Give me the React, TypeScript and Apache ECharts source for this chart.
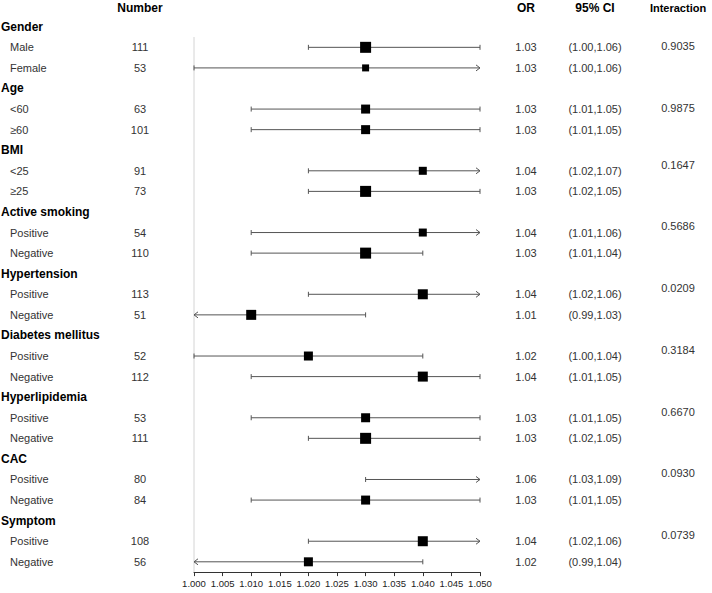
import React, { useEffect, useRef } from "react";
import * as echarts from "echarts";

const groups = ["Gender", "Age", "BMI", "Active smoking", "Hypertension", "Diabetes mellitus", "Hyperlipidemia", "CAC", "Symptom"];
const subgroups = [
  ["Male", "Female"], ["<60", "≥60"], ["<25", "≥25"], ["Positive", "Negative"], ["Positive", "Negative"],
  ["Positive", "Negative"], ["Positive", "Negative"], ["Positive", "Negative"], ["Positive", "Negative"],
];
const numbers = [[111, 53], [63, 101], [91, 73], [54, 110], [113, 51], [52, 112], [53, 111], [80, 84], [108, 56]];
const orValues = [[1.03, 1.03], [1.03, 1.03], [1.04, 1.03], [1.04, 1.03], [1.04, 1.01], [1.02, 1.04], [1.03, 1.03], [1.06, 1.03], [1.04, 1.02]];
// CI as printed in the table
const ciLower = [[1.0, 1.0], [1.01, 1.01], [1.02, 1.02], [1.01, 1.01], [1.02, 0.99], [1.0, 1.01], [1.01, 1.02], [1.03, 1.01], [1.02, 0.99]];
const ciUpper = [[1.06, 1.06], [1.05, 1.05], [1.07, 1.05], [1.06, 1.04], [1.06, 1.03], [1.04, 1.05], [1.05, 1.05], [1.09, 1.05], [1.06, 1.04]];
// CI as drawn in the plot
const plotLower = [[1.02, 1.0], [1.01, 1.01], [1.02, 1.02], [1.01, 1.01], [1.02, 0.99], [1.0, 1.01], [1.01, 1.02], [1.03, 1.01], [1.02, 0.99]];
const plotUpper = [[1.05, 1.06], [1.05, 1.05], [1.07, 1.05], [1.06, 1.04], [1.06, 1.03], [1.04, 1.05], [1.05, 1.05], [1.09, 1.05], [1.06, 1.04]];
const interaction = ["0.9035", "0.9875", "0.1647", "0.5686", "0.0209", "0.3184", "0.6670", "0.0930", "0.0739"];
// relative weight of each estimate (drives square size)
const weights = [[5.5, 3.5], [4.5, 4.5], [4, 5.5], [4, 5.5], [5, 5], [4.5, 5], [4.5, 5.5], [4.5, 4.5], [5, 4.5]];
const headers = ["Number", "OR", "95% CI", "Interaction"];

const X_MIN = 1.0;
const X_MAX = 1.05;
const FONT = "'Liberation Sans', Arial, Helvetica, sans-serif";

const fmt2 = (v: number) => v.toFixed(2);

export default function App() {
  const ref = useRef<HTMLDivElement>(null);
  useEffect(() => {
    if (!ref.current) return;
    const chart = echarts.init(ref.current, undefined, { renderer: "svg" });

    type Row = { r: number; kind: "group" | "sub"; gi: number; si: number };
    const rows: Row[] = [];
    const groupRow: number[] = [];
    let r = 0;
    groups.forEach((_, gi) => {
      groupRow.push(r);
      rows.push({ r, kind: "group", gi, si: -1 });
      r++;
      subgroups[gi].forEach((_, si) => {
        rows.push({ r, kind: "sub", gi, si });
        r++;
      });
    });
    const subRows = rows.filter((x) => x.kind === "sub");

    const txt = (x: number, y: number, text: string, align: string, bold: boolean, size: number, color: string) => ({
      type: "text",
      x,
      y,
      style: {
        text,
        fill: color,
        fontSize: size,
        fontWeight: bold ? "bold" : "normal",
        fontFamily: FONT,
        align,
        verticalAlign: "middle",
        textAlign: align,
        textVerticalAlign: "middle",
      },
    });

    const COL_NUM = 140;
    const COL_OR = 526;
    const COL_CI = 595;
    const COL_INT = 678;

    const option: any = {
      animation: false,
      grid: { left: 194, right: 232, top: 0, bottom: 20.9, containLabel: false },
      xAxis: {
        type: "value",
        min: X_MIN,
        max: X_MAX,
        interval: 0.005,
        axisLine: { show: true, onZero: false, lineStyle: { color: "#333", width: 1 } },
        axisTick: { show: true, length: 4, lineStyle: { color: "#333" } },
        axisLabel: {
          formatter: (v: number) => v.toFixed(3),
          fontSize: 9.5,
          color: "#222",
          fontFamily: FONT,
          margin: 6,
        },
        splitLine: { show: false },
      },
      yAxis: { type: "value", inverse: true, min: -1.3, max: 26.5, show: false },
      series: [
        {
          type: "line",
          data: [[X_MIN, 0.5], [X_MIN, 26.5]],
          symbol: "none",
          lineStyle: { color: "#d4d4d4", width: 1 },
          silent: true,
          z: 1,
        },
        {
          type: "custom",
          clip: false,
          z: 2,
          data: subRows.map((row) => [plotLower[row.gi][row.si], plotUpper[row.gi][row.si], row.r]),
          renderItem: (params: any, api: any) => {
            const lo = api.value(0);
            const hi = api.value(1);
            const rr = api.value(2);
            const p1 = api.coord([Math.max(lo, X_MIN), rr]);
            const p2 = api.coord([Math.min(hi, X_MAX), rr]);
            const y = p1[1];
            const stroke = { stroke: "#555", lineWidth: 1, fill: "none" };
            const children: any[] = [
              { type: "line", shape: { x1: p1[0], y1: y, x2: p2[0], y2: y }, style: stroke },
            ];
            if (lo < X_MIN) {
              children.push({ type: "polyline", shape: { points: [[p1[0] + 4, y - 3], [p1[0], y], [p1[0] + 4, y + 3]] }, style: stroke });
            } else {
              children.push({ type: "line", shape: { x1: p1[0], y1: y - 2.5, x2: p1[0], y2: y + 2.5 }, style: stroke });
            }
            if (hi > X_MAX) {
              children.push({ type: "polyline", shape: { points: [[p2[0] - 4, y - 3], [p2[0], y], [p2[0] - 4, y + 3]] }, style: stroke });
            } else {
              children.push({ type: "line", shape: { x1: p2[0], y1: y - 2.5, x2: p2[0], y2: y + 2.5 }, style: stroke });
            }
            return { type: "group", children };
          },
        },
        {
          type: "scatter",
          z: 3,
          symbol: "rect",
          data: subRows
            .filter((row) => orValues[row.gi][row.si] <= X_MAX && orValues[row.gi][row.si] >= X_MIN)
            .map((row) => [orValues[row.gi][row.si], row.r, weights[row.gi][row.si]]),
          symbolSize: (d: number[]) => d[2] * 2,
          itemStyle: { color: "#000", opacity: 1 },
        },
        {
          type: "custom",
          clip: false,
          z: 4,
          data: rows.map((row) => [X_MIN, row.r]),
          renderItem: (params: any, api: any) => {
            const row = rows[params.dataIndex];
            const y = api.coord([X_MIN, row.r])[1];
            if (row.kind === "group") {
              return { type: "group", children: [txt(1, y, groups[row.gi], "left", true, 12, "#000")] };
            }
            const gi = row.gi;
            const si = row.si;
            return {
              type: "group",
              children: [
                txt(10, y, subgroups[gi][si], "left", false, 11, "#333"),
                txt(COL_NUM, y, String(numbers[gi][si]), "center", false, 11, "#333"),
                txt(COL_OR, y, fmt2(orValues[gi][si]), "center", false, 11, "#333"),
                txt(COL_CI, y, "(" + fmt2(ciLower[gi][si]) + "," + fmt2(ciUpper[gi][si]) + ")", "center", false, 11, "#333"),
              ],
            };
          },
        },
        {
          type: "custom",
          clip: false,
          z: 4,
          data: groups.map((_, gi) => [X_MIN, groupRow[gi] + (gi < 2 ? 0.95 : 0.7)]),
          renderItem: (params: any, api: any) => {
            const y = api.coord([X_MIN, api.value(1)])[1];
            return txt(COL_INT, y, interaction[params.dataIndex], "center", false, 11, "#333");
          },
        },
        {
          type: "custom",
          clip: false,
          z: 4,
          data: [[X_MIN, -0.9]],
          renderItem: (params: any, api: any) => {
            const y = api.coord([X_MIN, api.value(1)])[1];
            const xs = [COL_NUM, COL_OR, COL_CI, COL_INT];
            return {
              type: "group",
              children: headers.map((h, i) => txt(xs[i], y, h, "center", true, i === 3 ? 11 : 12, "#000")),
            };
          },
        },
      ],
    };
    chart.setOption(option);
    return () => chart.dispose();
  }, []);
  return <div ref={ref} style={{ position: "absolute", left: 0, top: 0, width: 712, height: 593, background: "#fff" }} />;
}
